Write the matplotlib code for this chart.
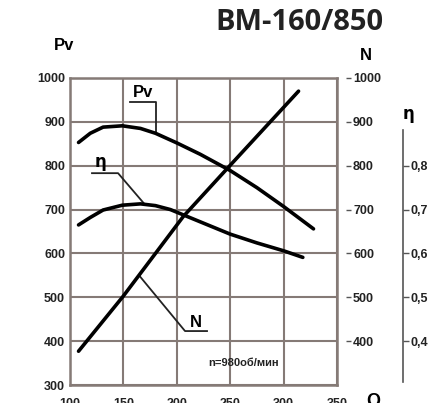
import numpy as np
import matplotlib
matplotlib.use('Agg')
import matplotlib.pyplot as plt

# Values (Q on the x axis)
q_pv = [108, 119, 131, 149, 166, 180, 200, 222, 250, 275, 300, 328]
pv = [853, 874, 888, 891, 885, 874, 852, 826, 789, 750, 707, 656]

q_eta = [108, 119, 131, 149, 166, 180, 194, 208, 230, 250, 275, 300, 318]
eta = [0.665, 0.682, 0.699, 0.710, 0.713, 0.709, 0.700, 0.686, 0.664, 0.644, 0.624, 0.606, 0.591]

q_n = [108, 150, 206, 250, 314]
n_power = [377, 503, 684, 801, 970]

x_ticks = [100, 150, 200, 250, 300, 350]
pv_ticks = [300, 400, 500, 600, 700, 800, 900, 1000]
n_ticks = [400, 500, 600, 700, 800, 900, 1000]
eta_ticks = [0.4, 0.5, 0.6, 0.7, 0.8]
eta_labels = ['0,4', '0,5', '0,6', '0,7', '0,8']

grid_col = '#857a76'
font = 'Liberation Sans'

fig = plt.figure(figsize=(4.35, 4.03), dpi=100)
ax = fig.add_axes([70 / 435, 18 / 403, 267 / 435, 307 / 403])

# main axis: Q vs Pv
ax.set_xlim(100, 350)
ax.set_ylim(300, 1000)
ax.set_xticks(x_ticks)
ax.set_yticks(pv_ticks)
ax.grid(True, color=grid_col, lw=1.5)
for s in ax.spines.values():
    s.set_color(grid_col)
    s.set_linewidth(1.8)
ax.tick_params(axis='both', length=0, labelsize=9)
ax.tick_params(axis='x', pad=9.5)
ax.tick_params(axis='y', pad=3.5)
for lab in ax.get_xticklabels() + ax.get_yticklabels():
    lab.set_fontfamily(font)
    lab.set_fontweight('bold')
    lab.set_color('#222222')

curve = dict(color='black', lw=2.6, solid_capstyle='round',
             solid_joinstyle='round', zorder=5)
ax.plot(q_pv, pv, **curve)
# eta drawn on the same scale (0.8 <-> 800)
ax.plot(q_eta, np.array(eta) * 1000, **curve)
ax.plot(q_n, n_power, **curve)

# N axis on the right
ax2 = ax.twinx()
ax2.set_ylim(300, 1000)
ax2.set_yticks(n_ticks)
for s in ax2.spines.values():
    s.set_visible(False)
ax2.spines['right'].set_position(('outward', 6.5))
ax2.tick_params(axis='y', length=3.6, width=1.0, color='#555555', pad=1.5, labelsize=9)
for lab in ax2.get_yticklabels():
    lab.set_fontfamily(font)
    lab.set_fontweight('bold')
    lab.set_color('#222222')

# eta axis further right
ax3 = ax.twinx()
ax3.set_ylim(0.3, 1.0)
ax3.set_yticks(eta_ticks)
ax3.set_yticklabels(eta_labels)
for k, s in ax3.spines.items():
    s.set_visible(k == 'right')
ax3.spines['right'].set_position(('outward', 47.5))
ax3.spines['right'].set_bounds(0.307, 0.882)
ax3.spines['right'].set_color('#555555')
ax3.spines['right'].set_linewidth(1.2)
ax3.tick_params(axis='y', length=4.3, width=1.0, color='#555555', pad=1.4, labelsize=9)
for lab in ax3.get_yticklabels():
    lab.set_fontfamily(font)
    lab.set_fontweight('bold')
    lab.set_color('#222222')

# curve labels with underline and leader lines
lead = dict(color='#222222', lw=1.3, zorder=4)
pv_at = np.interp(180.5, q_pv, pv)
ax.plot([155.8, 180.5, 180.5], [945, 945, pv_at], **lead)
ax.text(168, 950, 'Pv', ha='center', va='bottom', fontsize=12,
        fontweight='bold', family=font, zorder=6)

eta_at = np.interp(170, q_eta, eta) * 1000
ax.plot([120.6, 145, 170], [783, 783, eta_at], **lead)
ax.text(129, 787, 'η', ha='center', va='bottom', fontsize=12,
        fontweight='bold', family=['DejaVu Sans'], zorder=6)

n_at = np.interp(164.6, q_n, n_power)
ax.plot([164.6, 207.7, 228.3], [n_at, 423, 423], **lead)
ax.text(218, 426, 'N', ha='center', va='bottom', fontsize=12,
        fontweight='bold', family=font, zorder=6)

ax.text(229, 350, 'n=980об/мин', ha='left', va='center', fontsize=8,
        fontweight='bold', family=font, color='#222222', zorder=6)

# titles and axis names
fig.text(299.5 / 435, 1 - 23 / 403, 'ВМ-160/850', ha='center', va='center',
         fontsize=21, fontweight='bold', family='Open Sans', color='#222222')
fig.text(64 / 435, 1 - 46 / 403, 'Pv', ha='center', va='center',
         fontsize=12, fontweight='bold', family=font)
fig.text(366 / 435, 1 - 56 / 403, 'N', ha='center', va='center',
         fontsize=12, fontweight='bold', family=font)
fig.text(409 / 435, 1 - 114 / 403, 'η', ha='center', va='center',
         fontsize=12, fontweight='bold', family='DejaVu Sans')
fig.text(373 / 435, 1 - 401 / 403, 'Q', ha='center', va='center',
         fontsize=13, fontweight='bold', family=font)

fig.savefig('out.png', dpi=100)
